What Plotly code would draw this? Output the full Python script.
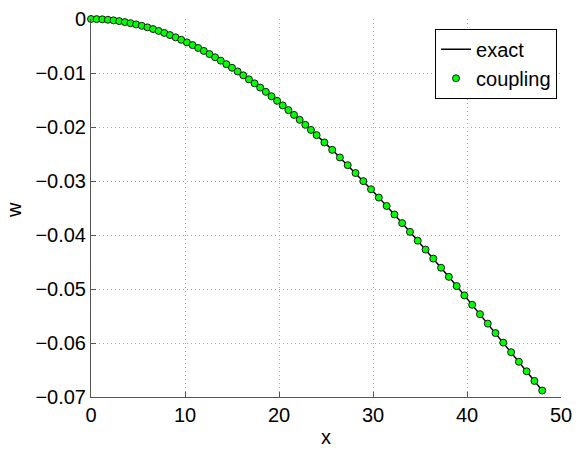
"""
Beam deflection: exact solution vs coupling result
"""

import plotly.graph_objects as go

# nodal positions (fine spacing on the left half, coarser on the right half)
x_nodes = [0.0, 0.6, 1.2, 1.8, 2.4, 3.0, 3.6, 4.2, 4.8, 5.4,
           6.0, 6.6, 7.2, 7.8, 8.4, 9.0, 9.6, 10.2, 10.8, 11.4,
           12.0, 12.6, 13.2, 13.8, 14.4, 15.0, 15.6, 16.2, 16.8, 17.4,
           18.0, 18.6, 19.2, 19.8, 20.4, 21.0, 21.6, 22.2, 22.8, 23.4,
           24.0, 24.83, 25.66, 26.48, 27.31, 28.14, 28.97, 29.79, 30.62, 31.45,
           32.28, 33.10, 33.93, 34.76, 35.59, 36.41, 37.24, 38.07, 38.90, 39.72,
           40.55, 41.38, 42.21, 43.03, 43.86, 44.69, 45.52, 46.34, 47.17, 48.0]

# deflection
w_exact = [0.0, -0.00002, -0.00006, -0.00014, -0.00025, -0.00039, -0.00057, -0.00077, -0.00100, -0.00126,
           -0.00155, -0.00186, -0.00221, -0.00258, -0.00298, -0.00340, -0.00385, -0.00433, -0.00483, -0.00536,
           -0.00591, -0.00649, -0.00709, -0.00771, -0.00836, -0.00903, -0.00972, -0.01043, -0.01117, -0.01192,
           -0.01270, -0.01349, -0.01431, -0.01515, -0.01600, -0.01687, -0.01776, -0.01867, -0.01960, -0.02054,
           -0.02150, -0.02285, -0.02423, -0.02564, -0.02707, -0.02853, -0.03002, -0.03153, -0.03307, -0.03462,
           -0.03620, -0.03780, -0.03942, -0.04105, -0.04270, -0.04437, -0.04606, -0.04775, -0.04946, -0.05118,
           -0.05292, -0.05466, -0.05641, -0.05816, -0.05993, -0.06170, -0.06347, -0.06524, -0.06702, -0.06880]

w_coupling = [0.0, -0.00002, -0.00006, -0.00014, -0.00025, -0.00039, -0.00057, -0.00077, -0.00100, -0.00126,
              -0.00155, -0.00186, -0.00221, -0.00258, -0.00298, -0.00340, -0.00385, -0.00433, -0.00483, -0.00536,
              -0.00591, -0.00649, -0.00709, -0.00771, -0.00836, -0.00903, -0.00972, -0.01043, -0.01117, -0.01192,
              -0.01270, -0.01349, -0.01431, -0.01515, -0.01600, -0.01687, -0.01776, -0.01867, -0.01960, -0.02054,
              -0.02150, -0.02285, -0.02423, -0.02564, -0.02707, -0.02853, -0.03002, -0.03153, -0.03307, -0.03462,
              -0.03620, -0.03780, -0.03942, -0.04105, -0.04270, -0.04437, -0.04606, -0.04775, -0.04946, -0.05118,
              -0.05292, -0.05466, -0.05641, -0.05816, -0.05993, -0.06170, -0.06347, -0.06524, -0.06702, -0.06880]

x_ticks = [0, 10, 20, 30, 40, 50]
w_ticks = [0, -0.01, -0.02, -0.03, -0.04, -0.05, -0.06, -0.07]
w_ticktext = ["0", "\u22120.01", "\u22120.02", "\u22120.03", "\u22120.04",
              "\u22120.05", "\u22120.06", "\u22120.07"]

FONT = "Liberation Sans, Arial, Helvetica, sans-serif"

fig = go.Figure()
fig.add_trace(go.Scatter(x=x_nodes, y=w_exact, mode="lines", name="exact",
                         line=dict(color="black", width=1.5)))
fig.add_trace(go.Scatter(x=x_nodes, y=w_coupling, mode="markers", name="coupling",
                         cliponaxis=False,
                         marker=dict(symbol="circle", size=7, color="#00ff00",
                                     line=dict(color="#1a1a1a", width=1))))

axis_common = dict(showgrid=True, gridcolor="#a8a8a8", griddash="1px,3px", gridwidth=1,
                   showline=True, linecolor="#555555", linewidth=1,
                   ticks="inside", ticklen=5, tickcolor="#555555",
                   zeroline=False, automargin=False, ticklabeloverflow="allow",
                   tickfont=dict(size=20, color="black"))

fig.update_xaxes(range=[0, 50], tickvals=x_ticks, **axis_common)
fig.update_yaxes(range=[-0.07, 0], tickvals=w_ticks, ticktext=w_ticktext, **axis_common)

# axis labels placed by hand (standoff is ignored without automargin)
fig.add_annotation(text="x", xref="paper", yref="paper", x=0.5, y=0,
                   xanchor="center", yanchor="middle", yshift=-40,
                   showarrow=False, font=dict(size=20, color="black"))
fig.add_annotation(text="w", xref="paper", yref="paper", x=0, y=0.5,
                   xanchor="center", yanchor="middle", xshift=-77, yshift=-2,
                   textangle=-90, showarrow=False, font=dict(size=20, color="black"))

fig.update_layout(
    width=579, height=450,
    margin=dict(l=91, r=18, t=19, b=53),
    plot_bgcolor="white", paper_bgcolor="white",
    font=dict(family=FONT, size=20, color="black"),
    legend=dict(x=0.9915, y=0.974, xanchor="right", yanchor="top",
                bgcolor="white", bordercolor="black", borderwidth=1,
                font=dict(size=20), tracegroupgap=0),
)

# drop the default 8px page margin so the figure fills the window
fig.write_html("out.html", config={"displayModeBar": False},
               post_script="document.body.style.margin = '0';")
